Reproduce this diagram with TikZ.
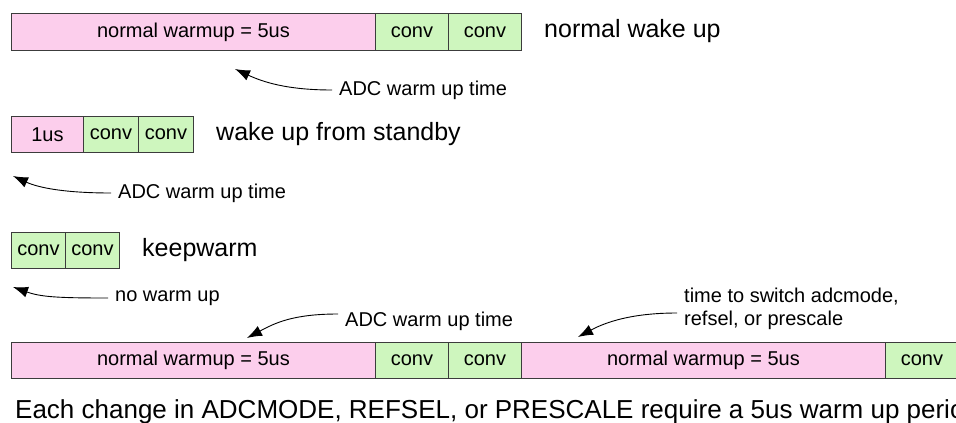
\documentclass[tikz,border=0pt]{standalone}
\usepackage{fontspec}
\setmainfont{Liberation Sans}
\usetikzlibrary{arrows.meta}
\definecolor{warmpink}{RGB}{252,206,236}
\definecolor{convgreen}{RGB}{206,246,190}
\definecolor{edgegray}{RGB}{60,60,60}
\begin{document}
\begin{tikzpicture}[x=1pt, y=-1pt,
    seg/.style={draw=edgegray, line width=0.9pt, anchor=north west, inner sep=0pt,
        minimum height=37pt, font=\fontsize{20}{23}\selectfont},
    warmbox/.style={seg, fill=warmpink},
    convbox/.style={seg, fill=convgreen},
    note/.style={anchor=west, inner sep=7pt, align=left, font=\fontsize{20}{23}\selectfont},
    rowlabel/.style={anchor=west, inner sep=0pt, font=\fontsize{25}{30}\selectfont},
    ptr/.style={-{Latex[length=15pt,width=11pt]}, line width=0.9pt}]
    \useasboundingbox (0,0) rectangle (956,423);
    % normal wake up
    \node[warmbox, minimum width=364pt] (w1) at (11,13) {normal warmup = 5us};
    \foreach \x/\nm in {375/a, 448/b} {
        \node[convbox, minimum width=73pt] (c1\nm) at (\x,13) {conv};
    }
    \node[rowlabel] (r1) at (544,31) {normal wake up};
    \node[note] (t1) at (332,90) {ADC warm up time};
    \coordinate (p1) at (235,69);
    \draw[ptr] (t1.west) .. controls +(-45,0) and +(28,13) .. (p1);
    % wake up from standby
    \node[warmbox, minimum width=72pt, minimum height=36pt] (w2) at (11,116) {1us};
    \foreach \x/\nm in {83/a, 138/b} {
        \node[convbox, minimum width=55pt, minimum height=36pt] (c2\nm) at (\x,116) {conv};
    }
    \node[rowlabel] (r2) at (216,134) {wake up from standby};
    \node[note] (t2) at (111,193) {ADC warm up time};
    \coordinate (p2) at (13,176);
    \draw[ptr] (t2.west) .. controls +(-45,0) and +(26,12) .. (p2);
    % keepwarm
    \foreach \x/\nm in {11/a, 65/b} {
        \node[convbox, minimum width=54pt, minimum height=36pt] (c3\nm) at (\x,232) {conv};
    }
    \node[rowlabel] (r3) at (142,250) {keepwarm};
    \node[note] (t3) at (108,298) {no warm up};
    \coordinate (p3) at (13,287);
    \draw[ptr] (t3.west) .. controls +(-50,0) and +(28,10) .. (p3);
    % settings change
    \node[warmbox, minimum width=364pt, minimum height=36pt] (w4) at (11,342) {normal warmup = 5us};
    \foreach \x/\nm in {375/a, 448/b} {
        \node[convbox, minimum width=73pt, minimum height=36pt] (c4\nm) at (\x,342) {conv};
    }
    \node[warmbox, minimum width=364pt, minimum height=36pt] (w5) at (521,342) {normal warmup = 5us};
    \node[convbox, minimum width=73pt, minimum height=36pt] (c5) at (885,342) {conv};
    \node[note] (t4) at (338,321) {ADC warm up time};
    \coordinate (p4) at (247,338);
    \draw[ptr] ([yshift=7pt]t4.west) .. controls +(-45,0) and +(28,-15) .. (p4);
    \node[note] (t5) at (677,309) {time to switch adcmode,\\refsel, or prescale};
    \coordinate (p5) at (578,337);
    \draw[ptr] ([yshift=-4pt]t5.west) .. controls +(-45,0) and +(28,-15) .. (p5);
    \node[anchor=base west, inner sep=0pt, font=\fontsize{26}{30}\selectfont] (foot) at (15,418)
        {Each change in ADCMODE, REFSEL, or PRESCALE require a 5us warm up period};
\end{tikzpicture}
\end{document}
